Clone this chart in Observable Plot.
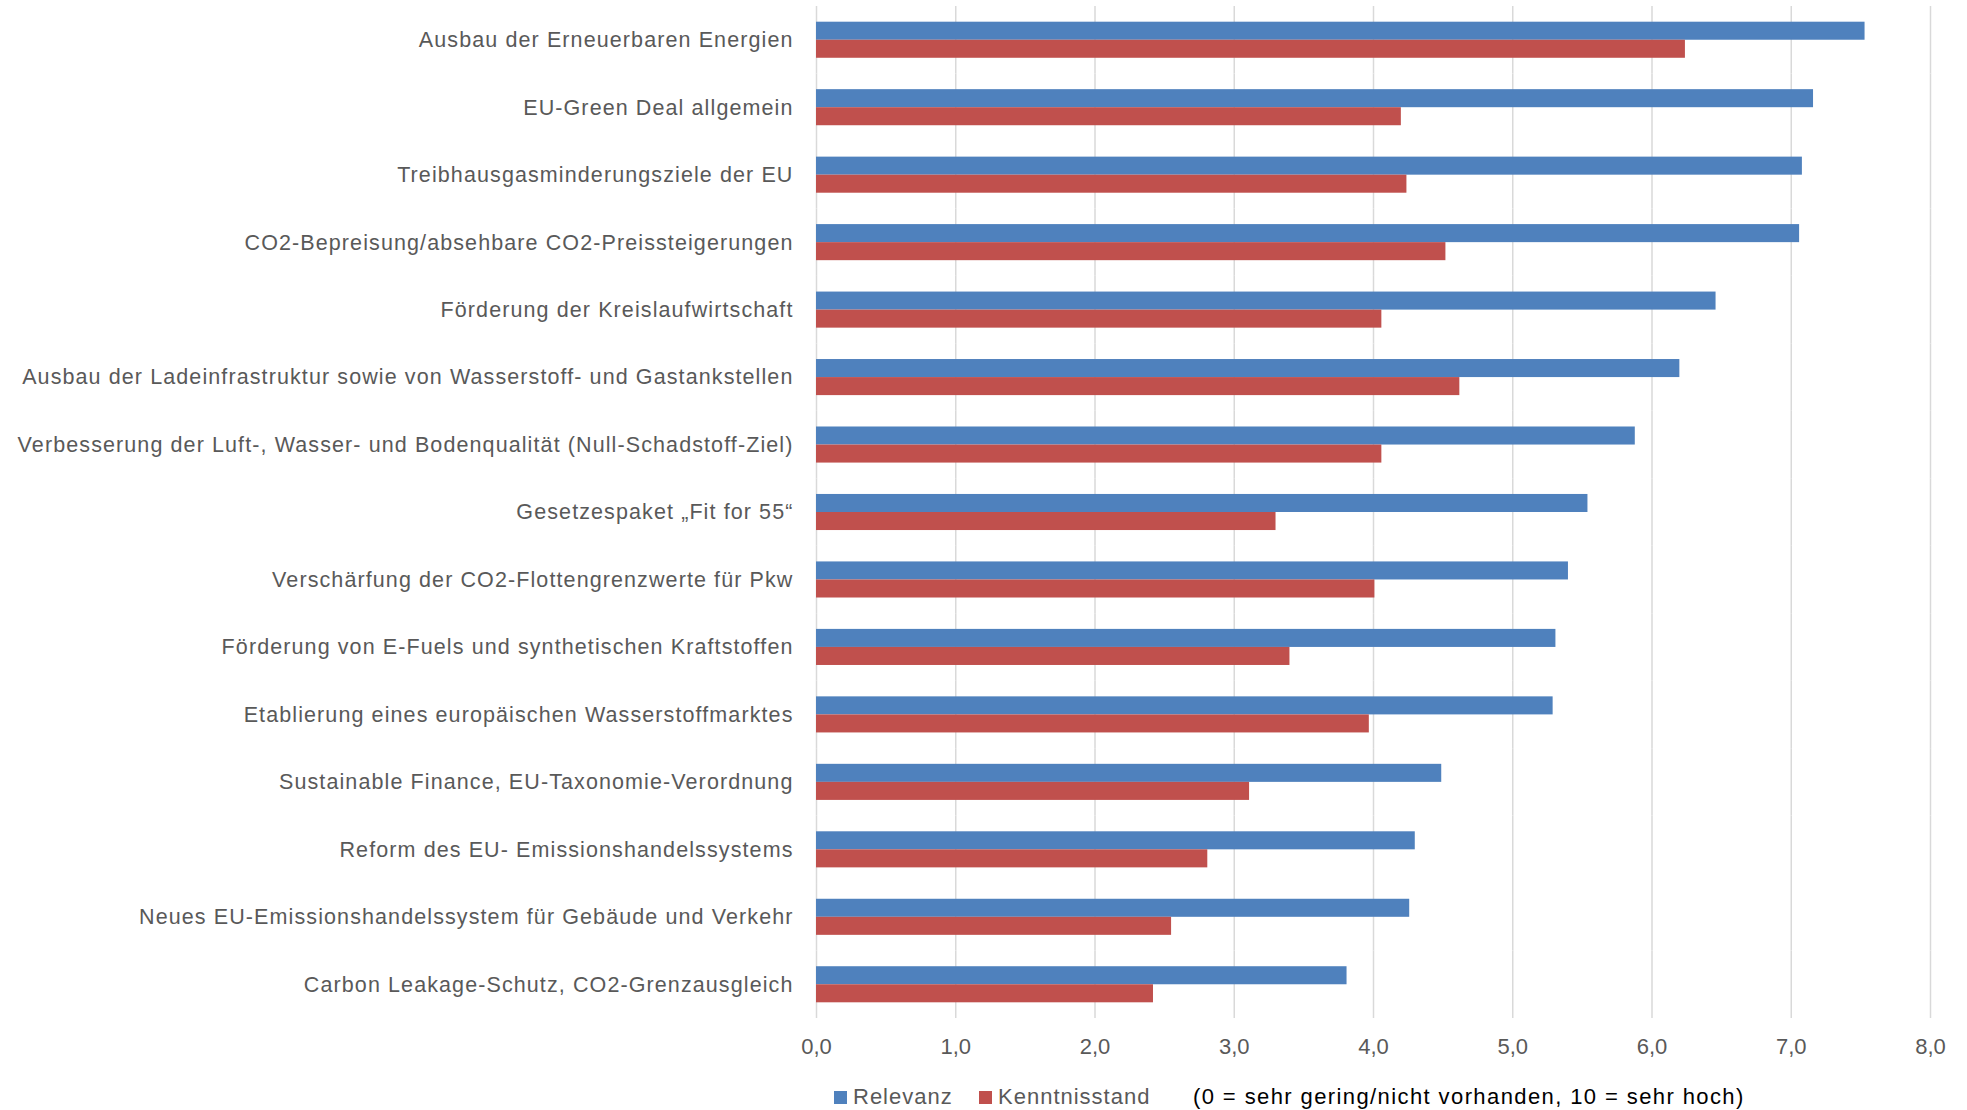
<!DOCTYPE html>
<html>
<head>
<meta charset="utf-8">
<script src="https://cdn.jsdelivr.net/npm/d3@7"></script>
<script src="https://cdn.jsdelivr.net/npm/@observablehq/plot@0.6"></script>
<style>
  html, body { margin: 0; padding: 0; background: #fff; }
  #wrap { position: relative; width: 1967px; height: 1110px; font-family: "Liberation Sans", Arial, sans-serif; }
  #legend { position: absolute; top: 1085px; left: 0; height: 24px; width: 1967px; font-size: 22px; }
  .li { position: absolute; top: 0; display: flex; align-items: center; height: 24px; white-space: nowrap; }
  .sw { width: 13px; height: 13px; margin-right: 6px; }
  g[aria-label="fy-axis tick label"] text { letter-spacing: 1.1px; }
</style>
</head>
<body>
<div id="wrap"><div id="chart"></div><div id="legend"></div></div>
<script>
const categories = [
  "Ausbau der Erneuerbaren Energien",
  "EU-Green Deal allgemein",
  "Treibhausgasminderungsziele der EU",
  "CO2-Bepreisung/absehbare CO2-Preissteigerungen",
  "Förderung der Kreislaufwirtschaft",
  "Ausbau der Ladeinfrastruktur sowie von Wasserstoff- und Gastankstellen",
  "Verbesserung der Luft-, Wasser- und Bodenqualität (Null-Schadstoff-Ziel)",
  "Gesetzespaket „Fit for 55“",
  "Verschärfung der CO2-Flottengrenzwerte für Pkw",
  "Förderung von E-Fuels und synthetischen Kraftstoffen",
  "Etablierung eines europäischen Wasserstoffmarktes",
  "Sustainable Finance, EU-Taxonomie-Verordnung",
  "Reform des EU- Emissionshandelssystems",
  "Neues EU-Emissionshandelssystem für Gebäude und Verkehr",
  "Carbon Leakage-Schutz, CO2-Grenzausgleich"
];
const relevanz = [7.53, 7.16, 7.08, 7.06, 6.46, 6.20, 5.88, 5.54, 5.40, 5.31, 5.29, 4.49, 4.30, 4.26, 3.81];
const kenntnisstand = [6.24, 4.20, 4.24, 4.52, 4.06, 4.62, 4.06, 3.30, 4.01, 3.40, 3.97, 3.11, 2.81, 2.55, 2.42];
const seriesNames = ["Relevanz", "Kenntnisstand"];
const seriesColors = ["#4F81BD", "#C0504D"];
const xTicks = [0, 1, 2, 3, 4, 5, 6, 7, 8];
const note = "(0 = sehr gering/nicht vorhanden, 10 = sehr hoch)";

const data = categories.flatMap((c, i) => [
  {category: c, series: seriesNames[0], value: relevanz[i]},
  {category: c, series: seriesNames[1], value: kenntnisstand[i]}
]);

const chart = Plot.plot({
  width: 1967,
  height: 1072,
  marginLeft: 816,
  marginRight: 37,
  marginTop: 6,
  marginBottom: 54,
  style: {fontFamily: "'Liberation Sans', Arial, sans-serif", fontSize: "21.5px", color: "#595959", background: "#fff"},
  x: {domain: [0, 8]},
  fy: {domain: categories, padding: 0, round: false},
  y: {domain: seriesNames, paddingInner: 0, paddingOuter: 0.87, round: false, axis: null},
  color: {domain: seriesNames, range: seriesColors},
  marks: [
    Plot.gridX(xTicks, {stroke: "#D9D9D9", strokeOpacity: 1, strokeWidth: 1.5}),
    Plot.barX(data, {x: "value", y: "series", fy: "category", fill: "series"}),
    Plot.axisX({ticks: xTicks, tickFormat: d => d.toFixed(1).replace(".", ","), tickSize: 0, tickPadding: 20, label: null, fontSize: 22, fill: "#595959"}),
    Plot.axisFy({anchor: "left", tickSize: 0, tickPadding: 23, label: null, fontSize: 21.5, fill: "#595959"})
  ]
});
document.getElementById("chart").appendChild(chart);

const legend = document.getElementById("legend");
const items = [
  {left: 834, color: seriesColors[0], text: seriesNames[0]},
  {left: 979, color: seriesColors[1], text: seriesNames[1]}
];
for (const it of items) {
  const d = document.createElement("div");
  d.className = "li";
  d.style.left = it.left + "px";
  d.style.color = "#595959";
  d.style.letterSpacing = "1.0px";
  d.innerHTML = `<span class="sw" style="background:${it.color}"></span><span>${it.text}</span>`;
  legend.appendChild(d);
}
const n = document.createElement("div");
n.className = "li";
n.style.left = "1193px";
n.style.color = "#000";
n.style.letterSpacing = "1.4px";
n.textContent = note;
legend.appendChild(n);
</script>
</body>
</html>
